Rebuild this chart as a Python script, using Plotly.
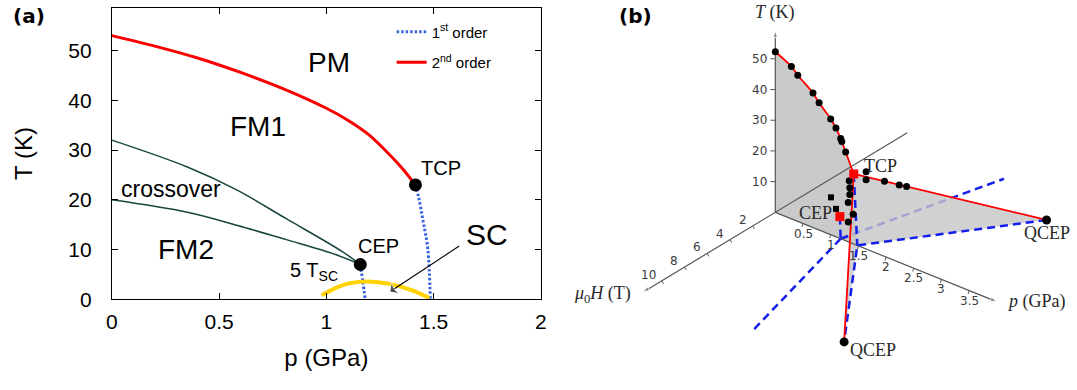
import plotly.graph_objects as go

FIG_W, FIG_H = 1077, 390

# ---------------- panel (a) data ----------------
a_p_ticks = [0, 0.5, 1, 1.5, 2]
a_p_ticklabels = ["0", "0.5", "1", "1.5", "2"]
a_T_ticks = [0, 10, 20, 30, 40, 50]

a_second_p = [0, 0.2, 0.4, 0.6, 0.8, 1.0, 1.1, 1.2, 1.296, 1.36, 1.415]
a_second_T = [53, 50.9, 48.5, 45.6, 42.3, 38.4, 36.0, 33.0, 29.0, 26.0, 23.0]

a_first_tcp_p = [1.415, 1.43, 1.45, 1.473, 1.484]
a_first_tcp_T = [23.0, 20.5, 15.9, 10.0, 0.0]

a_first_cep_p = [1.158, 1.17, 1.181]
a_first_cep_T = [7.0, 3.5, 0.0]

a_cross_up_p = [0, 0.352, 0.582, 0.813, 1.074, 1.158]
a_cross_up_T = [32, 26.6, 22.0, 16.2, 9.6, 7.0]
a_cross_lo_p = [0, 0.352, 0.582, 0.813, 1.043, 1.158]
a_cross_lo_T = [20, 17.5, 14.9, 12.0, 9.0, 7.0]

a_sc_p = [0.978, 1.05, 1.1, 1.18, 1.3, 1.4, 1.48]
a_sc_T = [0.8, 2.4, 3.15, 3.6, 3.05, 1.8, 0.25]

a_points_p = [1.415, 1.158]   # TCP, CEP
a_points_T = [23.0, 7.0]

a_arrow_p = [1.619, 1.295]
a_arrow_T = [10.7, 1.5]

a_labels = [  # text, p, T, size
    ("PM", 1.01, 47.6, 28),
    ("FM1", 0.68, 34.8, 28),
    ("crossover", 0.275, 22.1, 23),
    ("FM2", 0.344, 10.0, 28),
    ("CEP", 1.243, 10.7, 20),
    ("TCP", 1.535, 26.3, 20),
    ("5 T<sub>SC</sub>", 0.943, 5.6, 20),
    ("SC", 1.75, 13.0, 30),
]

# ---------------- panel (b) data (p [GPa], T [K], mu0H [T]) ----------------
b_T_ticks = [10, 20, 30, 40, 50]
b_p_ticks = [0.5, 1, 1.5, 2, 2.5, 3, 3.5]
b_p_ticklabels = ["0.5", "1", "1.5", "2", "2.5", "3", "3.5"]
b_H_ticks = [2, 4, 6, 8, 10]

b_curve_p = [0, 0.29, 0.405, 0.68, 0.79, 1.0, 1.095, 1.18, 1.20, 1.27]
b_curve_T = [52.3, 49.6, 47.6, 43.8, 41.4, 37.7, 35.4, 32.6, 31.8, 28.9]

b_tcp = (1.416, 22.8, 0.0)
b_cep = (1.166, 7.1, 0.0)
b_tcp_end_p = 1.48     # first-order line reaches T = 0
b_cep_end_p = 1.18
b_qcep_p, b_qcep_H = 3.07, 8.9
b_cepwing_p, b_cepwing_H = 1.87, 11.0

b_dots_p = [1.334, 1.345, 1.345, 1.316, 1.405, 1.316, 1.52, 1.52, 1.679, 1.806, 1.869]
b_dots_T = [20.0, 17.8, 15.6, 12.8, 9.6, 6.4, 23.0, 20.4, 19.2, 17.4, 16.6]
b_dots_H = [0, 0, 0, 0, 0, 0, -0.58, -0.58, -1.42, -2.1, -2.44]

b_sq_p = [1.005, 1.095]
b_sq_T = [12.2, 9.1]

b_axis_T_max = 59.1
b_axis_p_max = 4.0
b_axis_H_min, b_axis_H_max = -11.6, 11.65

# ---------------- projection of panel (b) ----------------
ORIG = (778.0, 218.5)
UNIT_P = (56.0, 23.0)
UNIT_T = (0.0, -3.16)
UNIT_H = (-11.5, 7.05)


def proj(p, T, H):
    return (ORIG[0] + p * UNIT_P[0] + T * UNIT_T[0] + H * UNIT_H[0],
            ORIG[1] + p * UNIT_P[1] + T * UNIT_T[1] + H * UNIT_H[1])


def proj_path(pts):
    xs, ys = [], []
    for pt in pts:
        if pt is None:
            xs.append(None)
            ys.append(None)
        else:
            x, y = proj(*pt)
            xs.append(x)
            ys.append(y)
    return xs, ys


fig = go.Figure()

# ================= panel (a) =================
BLUE_A = "rgb(60,100,225)"
fig.add_trace(go.Scatter(x=a_first_tcp_p, y=a_first_tcp_T, mode="lines",
                         line=dict(color=BLUE_A, width=3, dash="2.5px,2px", shape="spline"),
                         name="1<sup>st</sup> order", legendrank=1, legendgroup="g1"))
fig.add_trace(go.Scatter(x=a_first_cep_p, y=a_first_cep_T, mode="lines",
                         line=dict(color=BLUE_A, width=3, dash="2.5px,2px", shape="spline"),
                         showlegend=False))
fig.add_trace(go.Scatter(x=a_second_p, y=a_second_T, mode="lines",
                         line=dict(color="rgb(250,0,0)", width=3, shape="spline", smoothing=0.6),
                         name="2<sup>nd</sup> order", legendrank=2, legendgroup="g2"))
for cp, cT in [(a_cross_up_p, a_cross_up_T), (a_cross_lo_p, a_cross_lo_T)]:
    fig.add_trace(go.Scatter(x=cp, y=cT, mode="lines",
                             line=dict(color="rgb(25,70,65)", width=1.5, shape="spline"),
                             showlegend=False))
fig.add_trace(go.Scatter(x=a_sc_p, y=a_sc_T, mode="lines",
                         line=dict(color="rgb(255,210,0)", width=4, shape="spline"),
                         showlegend=False))
fig.add_trace(go.Scatter(x=a_points_p, y=a_points_T, mode="markers",
                         marker=dict(color="black", size=13), showlegend=False))
fig.add_trace(go.Scatter(x=a_arrow_p, y=a_arrow_T, mode="lines+markers",
                         line=dict(color="black", width=1.1),
                         marker=dict(symbol="arrow-wide", size=[0, 13], angleref="previous",
                                     color="black"),
                         showlegend=False))

for txt, px, ty, sz in a_labels:
    fig.add_annotation(x=px, y=ty, xref="x", yref="y", text=txt, showarrow=False,
                       xanchor="center", yanchor="middle",
                       font=dict(family="Liberation Sans", size=sz, color="black"))

axis_common = dict(showline=True, linecolor="black", linewidth=1, mirror="ticks",
                   ticks="inside", ticklen=6, tickcolor="black", showgrid=False,
                   zeroline=False, tickfont=dict(family="Liberation Sans", size=21, color="black"))
fig.update_layout(
    xaxis=dict(domain=[107 / FIG_W, 541 / FIG_W], range=[0, 2], tickvals=a_p_ticks,
               ticktext=a_p_ticklabels, ticklabelstandoff=3,
               title=dict(text="p (GPa)", standoff=17,
                          font=dict(family="Liberation Sans", size=24, color="black")),
               anchor="y", **axis_common),
    yaxis=dict(domain=[1 - 308 / FIG_H, 1 - 8 / FIG_H], range=[0, 58.6], tickvals=a_T_ticks,
               ticklabelstandoff=15,
               title=dict(text="T (K)", standoff=28,
                          font=dict(family="Liberation Sans", size=24, color="black")),
               anchor="x", **axis_common),
)

# ================= panel (b) =================
plane_pts = [(0, 0, 0)] + [(p, t, 0) for p, t in zip(b_curve_p, b_curve_T)] + \
            [b_tcp, (b_tcp_end_p, 0, 0), (0, 0, 0)]
xs, ys = proj_path(plane_pts)
fig.add_trace(go.Scatter(x=xs, y=ys, xaxis="x2", yaxis="y2", mode="lines", fill="toself",
                         fillcolor="rgba(170,170,170,0.62)", line=dict(width=0),
                         showlegend=False, hoverinfo="skip"))

BLUE_B = "rgb(20,30,235)"
DASH_B = "8px,5px"
xs, ys = proj_path([(b_cep_end_p, 0, 0), (b_cepwing_p, 0, -b_cepwing_H)])
fig.add_trace(go.Scatter(x=xs, y=ys, xaxis="x2", yaxis="y2", mode="lines",
                         line=dict(color=BLUE_B, width=2.5, dash=DASH_B), showlegend=False))

for sgn in (-1, 1):
    xs, ys = proj_path([b_tcp, (b_tcp_end_p, 0, 0), (b_qcep_p, 0, sgn * b_qcep_H), b_tcp])
    fig.add_trace(go.Scatter(x=xs, y=ys, xaxis="x2", yaxis="y2", mode="lines", fill="toself",
                             fillcolor="rgba(198,198,198,0.8)", line=dict(width=0),
                             showlegend=False, hoverinfo="skip"))

AX_COL = "rgb(85,85,85)"
for a_start, a_end in [((0, 0, 0), (0, b_axis_T_max, 0)),
                       ((0, 0, b_axis_H_min), (0, 0, b_axis_H_max)),
                       ((0, 0, 0), (b_axis_p_max, 0, 0))]:
    xs, ys = proj_path([a_start, a_end])
    fig.add_trace(go.Scatter(x=xs, y=ys, xaxis="x2", yaxis="y2", mode="lines+markers",
                             line=dict(color=AX_COL, width=1.2),
                             marker=dict(symbol="arrow", size=[0, 7], angleref="previous",
                                         color=AX_COL),
                             showlegend=False))
tx, ty = [], []
for t in b_T_ticks:
    x, y = proj(0, t, 0)
    tx += [x - 5, x, None]
    ty += [y, y, None]
for h in b_H_ticks:
    x, y = proj(0, 0, h)
    tx += [x, x + 2, None]
    ty += [y, y + 3, None]
for p in b_p_ticks:
    x, y = proj(p, 0, 0)
    tx += [x, x - 1, None]
    ty += [y, y + 3.5, None]
fig.add_trace(go.Scatter(x=tx, y=ty, xaxis="x2", yaxis="y2", mode="lines",
                         line=dict(color=AX_COL, width=1), showlegend=False))

TICK_FONT_B = dict(family="DejaVu Sans", size=12, color="rgb(60,60,60)")
for t in b_T_ticks:
    x, y = proj(0, t, 0)
    fig.add_annotation(x=x, y=y, xref="x2", yref="y2", text=str(t), showarrow=False,
                       xanchor="right", yanchor="middle", xshift=-6, font=TICK_FONT_B)
for h in b_H_ticks:
    x, y = proj(0, 0, h)
    fig.add_annotation(x=x, y=y, xref="x2", yref="y2", text=str(h), showarrow=False,
                       xanchor="right", yanchor="middle", xshift=-4, yshift=6,
                       font=TICK_FONT_B)
for p, lab in zip(b_p_ticks, b_p_ticklabels):
    x, y = proj(p, 0, 0)
    fig.add_annotation(x=x, y=y, xref="x2", yref="y2", text=lab, showarrow=False,
                       xanchor="center", yanchor="middle", yshift=-10, font=TICK_FONT_B)

blue_pts = [b_cep, (b_cep_end_p, 0, 0), None,
            b_tcp, (b_tcp_end_p, 0, 0), None,
            (b_qcep_p, 0, -b_qcep_H), (b_tcp_end_p, 0, 0), (b_qcep_p, 0, b_qcep_H), None,
            (b_cep_end_p, 0, 0), (b_cepwing_p, 0, b_cepwing_H)]
xs, ys = proj_path(blue_pts)
fig.add_trace(go.Scatter(x=xs, y=ys, xaxis="x2", yaxis="y2", mode="lines",
                         line=dict(color=BLUE_B, width=2.5, dash=DASH_B), showlegend=False))

xs, ys = proj_path([(p, t, 0) for p, t in zip(b_curve_p, b_curve_T)] + [b_tcp])
fig.add_trace(go.Scatter(x=xs, y=ys, xaxis="x2", yaxis="y2", mode="lines",
                         line=dict(color="red", width=1.8, shape="spline", smoothing=0.8),
                         showlegend=False))
xs, ys = proj_path([(b_qcep_p, 0, -b_qcep_H), b_tcp, (b_qcep_p, 0, b_qcep_H)])
fig.add_trace(go.Scatter(x=xs, y=ys, xaxis="x2", yaxis="y2", mode="lines",
                         line=dict(color="red", width=1.8), showlegend=False))

xs, ys = proj_path([(p, t, 0) for p, t in zip(b_curve_p, b_curve_T)] +
                   [(p, t, h) for p, t, h in zip(b_dots_p, b_dots_T, b_dots_H)])
fig.add_trace(go.Scatter(x=xs, y=ys, xaxis="x2", yaxis="y2", mode="markers",
                         marker=dict(color="black", size=7), showlegend=False))
xs, ys = proj_path([(p, t, 0) for p, t in zip(b_sq_p, b_sq_T)])
fig.add_trace(go.Scatter(x=xs, y=ys, xaxis="x2", yaxis="y2", mode="markers",
                         marker=dict(color="black", size=6, symbol="square"), showlegend=False))
xs, ys = proj_path([b_tcp, b_cep])
fig.add_trace(go.Scatter(x=xs, y=ys, xaxis="x2", yaxis="y2", mode="markers",
                         marker=dict(color="red", size=9, symbol="square"), showlegend=False))
xs, ys = proj_path([(b_qcep_p, 0, -b_qcep_H), (b_qcep_p, 0, b_qcep_H)])
fig.add_trace(go.Scatter(x=xs, y=ys, xaxis="x2", yaxis="y2", mode="markers",
                         marker=dict(color="black", size=9), showlegend=False))

SERIF = dict(family="Liberation Serif", size=18, color="rgb(40,40,40)")
x, y = proj(*b_tcp)
fig.add_annotation(x=x, y=y, xref="x2", yref="y2", text="TCP", showarrow=False,
                   xanchor="left", yanchor="middle", xshift=8, yshift=8, font=SERIF)
x, y = proj(*b_cep)
fig.add_annotation(x=x, y=y, xref="x2", yref="y2", text="CEP", showarrow=False,
                   xanchor="right", yanchor="middle", xshift=-6, yshift=4, font=SERIF)
x, y = proj(b_qcep_p, 0, -b_qcep_H)
fig.add_annotation(x=x, y=y, xref="x2", yref="y2", text="QCEP", showarrow=False,
                   xanchor="center", yanchor="middle", yshift=-13, font=SERIF)
x, y = proj(b_qcep_p, 0, b_qcep_H)
fig.add_annotation(x=x, y=y, xref="x2", yref="y2", text="QCEP", showarrow=False,
                   xanchor="left", yanchor="middle", xshift=4, yshift=-8, font=SERIF)
x, y = proj(0, b_axis_T_max, 0)
fig.add_annotation(x=x, y=y, xref="x2", yref="y2", text="<i>T</i> (K)", showarrow=False,
                   xanchor="center", yanchor="middle", yshift=18, font=SERIF)
x, y = proj(b_axis_p_max, 0, 0)
fig.add_annotation(x=x, y=y, xref="x2", yref="y2", text="<i>p</i> (GPa)", showarrow=False,
                   xanchor="left", yanchor="middle", xshift=8, font=SERIF)
x, y = proj(0, 0, b_axis_H_max)
fig.add_annotation(x=x, y=y, xref="x2", yref="y2", text="<i>μ</i><sub>0</sub><i>H</i> (T)",
                   showarrow=False, xanchor="right", yanchor="middle", xshift=-10, yshift=-2,
                   font=SERIF)

fig.add_annotation(x=23 / FIG_W, y=1 - 16 / FIG_H, xref="paper", yref="paper",
                   text="<b>(a)</b>", showarrow=False, xanchor="center", yanchor="middle",
                   font=dict(family="DejaVu Sans", size=20, color="black"))
fig.add_annotation(x=637 / FIG_W, y=1 - 16 / FIG_H, xref="paper", yref="paper",
                   text="<b>(b)</b>", showarrow=False, xanchor="center", yanchor="middle",
                   font=dict(family="DejaVu Sans", size=20, color="black"))

fig.update_layout(
    xaxis2=dict(domain=[0.5, 1.0], range=[FIG_W * 0.5, FIG_W], visible=False, anchor="y2"),
    yaxis2=dict(domain=[0, 1], range=[FIG_H, 0], visible=False, anchor="x2"),
    width=FIG_W, height=FIG_H, margin=dict(l=0, r=0, t=0, b=0),
    paper_bgcolor="white", plot_bgcolor="rgba(0,0,0,0)",
    showlegend=True,
    legend=dict(x=390 / FIG_W, y=1 - 16 / FIG_H, xanchor="left", yanchor="top",
                bgcolor="rgba(0,0,0,0)", tracegroupgap=8,
                font=dict(family="Liberation Sans", size=15, color="black")),
)

fig.write_html("out.html")
